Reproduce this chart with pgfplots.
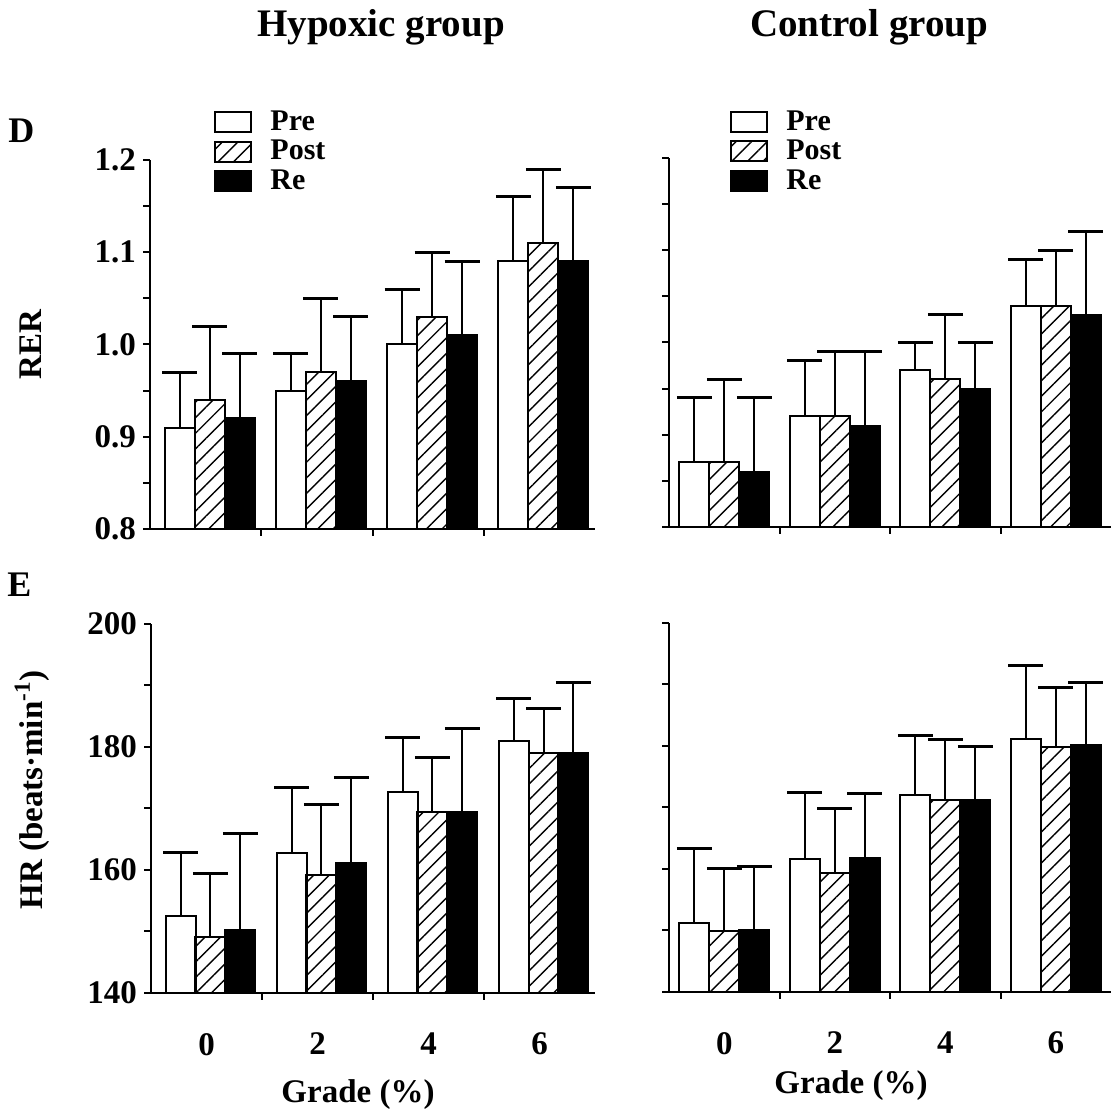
\documentclass[border=0pt]{standalone}
\usepackage{fontspec}
\setmainfont{Liberation Serif}
\usepackage{pgfplots}
\usepackage{pgfplotstable}
\pgfplotsset{compat=1.18}
\usetikzlibrary{patterns.meta}

% RER, hypoxic group
\pgfplotstableread{
x pre epre post epost re ere
0 0.91 0.06 0.94 0.08 0.92 0.07
1 0.95 0.04 0.97 0.08 0.96 0.07
2 1.00 0.06 1.03 0.07 1.01 0.08
3 1.09 0.07 1.11 0.08 1.09 0.08
}\rerhyp
% RER, control group
\pgfplotstableread{
x pre epre post epost re ere
0 0.87 0.07 0.87 0.09 0.86 0.08
1 0.92 0.06 0.92 0.07 0.91 0.08
2 0.97 0.03 0.96 0.07 0.95 0.05
3 1.04 0.05 1.04 0.06 1.03 0.09
}\rerctl
% HR, hypoxic group
\pgfplotstableread{
x pre epre post epost re ere
0 152.5 10.3 149.1 10.4 150.2 15.8
1 162.8 10.6 159.2 11.4 161.1 13.9
2 172.7 8.9 169.5 8.8 169.5 13.5
3 180.9 7.0 179.0 7.2 179.0 11.5
}\hrhyp
% HR, control group
\pgfplotstableread{
x pre epre post epost re ere
0 151.2 12.1 149.9 10.2 150.1 10.3
1 161.6 10.9 159.3 10.6 161.8 10.5
2 172.0 9.7 171.3 9.8 171.3 8.6
3 181.1 12.0 179.9 9.6 180.1 10.2
}\hrctl

\pgfplotsset{
  boxlegend/.style={legend image code/.code={\draw[##1] (0pt,-5pt) rectangle (18pt,5pt);}},
  bars/.style={ybar, bar width=15pt, bar shift=0pt, draw=black, line width=1pt, boxlegend,
    error bars/y dir=plus, error bars/y explicit},
  panel/.style={
    scale only axis, height=184.5pt,
    axis x line*=bottom, axis y line*=left,
    axis line style={line width=1pt, black},
    x axis line style={shorten <=-3.5pt},
    xmin=-0.5, xmax=3.5,
    xtick={0,1,2,3},
    minor xtick={0.5,1.5,2.5},
    major x tick style={draw=none},
    tick align=outside,
    tick style={line width=1pt, black},
    major tick length=3.5pt, minor tick length=3.5pt,
    tick label style={font=\fontsize{16.5}{18}\selectfont\bfseries},
    /pgf/number format/assume math mode=true,
    error bars/error bar style={line width=1pt, black},
    error bars/error mark options={rotate=90, mark size=8.75pt, line width=1.5pt, black},
    legend style={draw=none, fill=none, anchor=north west, inner sep=0pt,
      font=\fontsize{15}{15}\selectfont\bfseries, row sep=3.5pt, column sep=9pt,
      nodes={inner sep=0pt}, cells={anchor=west}},
  },
  rer/.style={ymin=0.8, ymax=1.2, ytick={0.8,0.9,1.0,1.1,1.2},
    minor ytick={0.85,0.95,1.05,1.15},
    yticklabel style={/pgf/number format/.cd, fixed, fixed zerofill, precision=1}},
  hr/.style={ymin=140, ymax=200, ytick={140,160,180,200}, minor ytick={150,170,190}},
  hatch/.style={pattern={Lines[angle=45,distance=5.5pt,line width=0.7pt]}, pattern color=black},
}

\begin{document}
\begin{tikzpicture}
\useasboundingbox (0,0) rectangle (555.5pt,555.5pt);

% top left
\begin{axis}[panel, rer, width=222.5pt, at={(75pt,291pt)}, anchor=south west,
  xticklabels={}, legend style={at={(0.144,1.135)}}]
\addplot[bars, fill=white] table[x expr=\thisrow{x}-0.234, y=pre, y error=epre] {\rerhyp};
\addplot[bars, hatch] table[x expr=\thisrow{x}+0.036, y=post, y error=epost] {\rerhyp};
\addplot[bars, fill=black] table[x expr=\thisrow{x}+0.306, y=re, y error=ere] {\rerhyp};
\legend{Pre, Post, Re}
\end{axis}

% top right
\begin{axis}[panel, rer, width=221pt, at={(334.5pt,292pt)}, anchor=south west,
  xticklabels={}, yticklabels={}, legend style={at={(0.138,1.13)}}]
\addplot[bars, fill=white] table[x expr=\thisrow{x}-0.2715, y=pre, y error=epre] {\rerctl};
\addplot[bars, hatch] table[x=x, y=post, y error=epost] {\rerctl};
\addplot[bars, fill=black] table[x expr=\thisrow{x}+0.2715, y=re, y error=ere] {\rerctl};
\legend{Pre, Post, Re}
\end{axis}

% bottom left
\begin{axis}[panel, hr, width=222pt, at={(75.5pt,59pt)}, anchor=south west,
  xticklabels={0,2,4,6}, xticklabel style={yshift=-13pt}]
\addplot[bars, fill=white] table[x expr=\thisrow{x}-0.234, y=pre, y error=epre] {\hrhyp};
\addplot[bars, hatch] table[x expr=\thisrow{x}+0.036, y=post, y error=epost] {\hrhyp};
\addplot[bars, fill=black] table[x expr=\thisrow{x}+0.306, y=re, y error=ere] {\hrhyp};
\end{axis}

% bottom right
\begin{axis}[panel, hr, width=221pt, at={(334.5pt,59.5pt)}, anchor=south west,
  xticklabels={0,2,4,6}, yticklabels={}, xticklabel style={yshift=-13pt}]
\addplot[bars, fill=white] table[x expr=\thisrow{x}-0.2715, y=pre, y error=epre] {\hrctl};
\addplot[bars, hatch] table[x=x, y=post, y error=epost] {\hrctl};
\addplot[bars, fill=black] table[x expr=\thisrow{x}+0.2715, y=re, y error=ere] {\hrctl};
\end{axis}

\node[font=\fontsize{19.5}{20}\selectfont\bfseries, anchor=base] at (190.5pt,537pt) {Hypoxic group};
\node[font=\fontsize{19.5}{20}\selectfont\bfseries, anchor=base] at (434.5pt,537pt) {Control group};
\node[font=\fontsize{18}{18}\selectfont\bfseries, anchor=base west, inner sep=0pt] at (4pt,484pt) {D};
\node[font=\fontsize{18}{18}\selectfont\bfseries, anchor=base west, inner sep=0pt] at (3.5pt,257pt) {E};
\node[font=\fontsize{16.5}{18}\selectfont\bfseries, rotate=90] at (15.5pt,383pt) {RER};
\node[font=\fontsize{16.5}{18}\selectfont\bfseries, rotate=90] at (16pt,160.5pt) {HR (beats·min\textsuperscript{-1})};
\node[font=\fontsize{16.5}{18}\selectfont\bfseries] at (179pt,8pt) {Grade (\%)};
\node[font=\fontsize{16.5}{18}\selectfont\bfseries] at (425.5pt,12.5pt) {Grade (\%)};
\end{tikzpicture}
\end{document}
